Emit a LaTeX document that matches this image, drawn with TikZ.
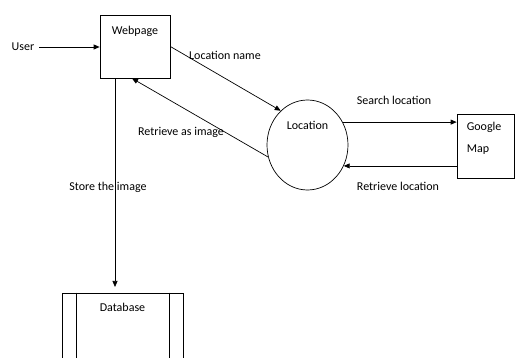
\documentclass[tikz,border=0pt]{standalone}
\usepackage{fontspec}
\setmainfont{Carlito}
\usetikzlibrary{arrows.meta,shapes.geometric}
\tikzset{
  box/.style={draw, rectangle, line width=0.7pt, inner sep=0pt},
  process/.style={draw, ellipse, line width=0.7pt, inner sep=0pt, minimum width=81pt, minimum height=90pt},
  flow/.style={line width=0.7pt, -{Triangle[length=6pt,width=5pt]}},
  txt/.style={inner sep=0pt, font=\fontsize{12}{14}\selectfont},
}
\begin{document}
\begin{tikzpicture}[x=1pt, y=-1pt, every node/.style={font=\fontsize{12}{14}\selectfont}]
    \useasboundingbox (0,0) rectangle (515,358);
    \clip (0,0) rectangle (515,358);
    % entities and processes
    \node[txt] (user) at (23,47) {User};
    \node[box, minimum width=70pt, minimum height=63pt,
          label={[txt, anchor=north, yshift=-11pt]north:Webpage}] (wp) at (135,46.5) {};
    \node[process, label={[txt, anchor=north, yshift=-21pt]north:Location}] (loc) at (307.5,145) {};
    \node[box, minimum width=57pt, minimum height=64pt] (gm) at (485.5,146) {};
    \node[txt, anchor=north west, align=left] (gmtext) at ([shift={(10,8)}]gm.north west) {Google\\[8pt]Map};
    % data store, open at the bottom
    \node[box, minimum width=121pt, minimum height=77pt,
          label={[txt, anchor=north, yshift=-10pt]north:Database}] (db) at (122.5,331.5) {};
    \draw[line width=0.7pt] ([xshift=15pt]db.north west) -- ([xshift=15pt]db.south west);
    \draw[line width=0.7pt] ([xshift=-14pt]db.north east) -- ([xshift=-14pt]db.south east);
    % flows
    \draw[flow, shorten <=5pt] (user.east) -- (wp.west |- user.east);
    \draw[flow] (wp.east) -- (loc.128);
    \node[txt] (lname) at (225,55) {Location name};
    \draw[flow] (loc.197) -- ([xshift=-3pt]wp.south);
    \node[txt] (lretr) at (181,132) {Retrieve as image};
    \draw[flow] (loc.33.5) -- (loc.33.5 -| gm.west);
    \node[txt] (lsearch) at (394,100) {Search location};
    \draw[flow] (gm.west |- loc.-30.4) -- (loc.-30.4);
    \node[txt] (lback) at (398,186) {Retrieve location};
    \coordinate (dbin) at (115,287);
    \draw[flow] (wp.south -| dbin) -- (dbin);
    \node[txt] (lstore) at (108,187) {Store the image};
\end{tikzpicture}
\end{document}
